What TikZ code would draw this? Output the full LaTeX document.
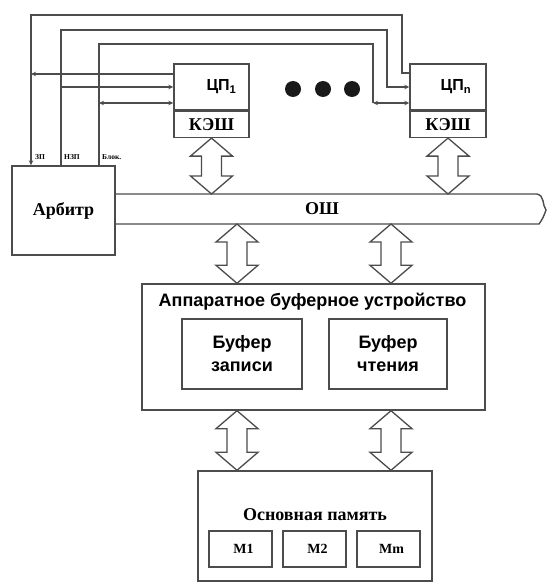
\documentclass[tikz,border=0pt]{standalone}
\usepackage{fontspec}
\setmainfont{Liberation Serif}
\setsansfont{Liberation Sans}
\usetikzlibrary{arrows.meta,calc}

% hollow two-way bus arrow from #1 (top) to #2 (bottom)
\newcommand{\dblarrow}[2]{%
  \draw[busarrow] let \p1=#1, \p2=#2 in
    (\x1,\y1) -- ++(-21pt,-18pt) -- ++(11pt,0pt) -- (\x1-10pt,\y2+18pt)
    -- ++(-11pt,0pt) -- (\x2,\y2) -- ++(21pt,18pt) -- ++(-11pt,0pt)
    -- (\x1+10pt,\y1-18pt) -- ++(11pt,0pt) -- cycle;}

\begin{document}
\begin{tikzpicture}[x=1pt,y=-1pt,
  box/.style={draw=black!70,line width=1.4pt,rectangle,inner sep=0pt},
  sig/.style={draw=black!70,line width=1.3pt},
  busarrow/.style={draw=black!70,line width=1.3pt,fill=white},
  tip/.style={-{Stealth[length=5pt,width=4.5pt]}},
  tipboth/.style={{Stealth[length=5pt,width=4.5pt]}-{Stealth[length=5pt,width=4.5pt]}},
  serifb/.style={font=\fontsize{18}{20}\selectfont\bfseries},
  serifm/.style={font=\fontsize{14}{16}\selectfont\bfseries},
  sansb/.style={font=\fontsize{18}{23}\selectfont\sffamily\bfseries},
  cpulbl/.style={font=\fontsize{16}{18}\selectfont\sffamily\bfseries},
  lbl/.style={font=\fontsize{7.5}{8}\selectfont\bfseries,inner sep=0pt}]
\useasboundingbox (0,0) rectangle (546,583);

% processors
\node[box,minimum width=75pt,minimum height=46pt] (cpu1) at (211.5,87) {};
\node[cpulbl] (cpu1lbl) at ([xshift=10pt]cpu1.center) {ЦП\textsubscript{1}};
\node[box,serifb,minimum width=75pt,minimum height=26pt,anchor=north] (kesh1) at (cpu1.south) {КЭШ};
\node[box,minimum width=76pt,minimum height=46pt] (cpun) at (448,87) {};
\node[cpulbl] (cpunlbl) at ([xshift=8pt]cpun.center) {ЦП\textsubscript{n}};
\node[box,serifb,minimum width=76pt,minimum height=26pt,anchor=north] (keshn) at (cpun.south) {КЭШ};
\foreach \x in {293,323,352}
  \fill[black!90] (\x,89) circle (8pt);

% arbiter and bus
\node[box,serifb,minimum width=103pt,minimum height=89pt] (arb) at (63.5,210.5) {Арбитр};
\coordinate (bustop) at (0,194);
\coordinate (busbot) at (0,224);
\draw[sig,line width=1.4pt] (arb.east |- bustop) -- (537,194)
  .. controls (545,196) and (542,205) .. (546,210)
  .. controls (544,216) and (542,220) .. (539,224) -- (arb.east |- busbot);
\node[serifb] (osh) at (322,209) {ОШ};

% control lines
\coordinate (zp) at ([xshift=-32.5pt]arb.north);
\coordinate (nzp) at ([xshift=-2.5pt]arb.north);
\coordinate (blk) at ([xshift=35.5pt]arb.north);
\coordinate (c1a) at ([yshift=13pt]cpu1.west);
\coordinate (c1c) at ([yshift=-16pt]cpu1.west);
\coordinate (cna) at ([yshift=14pt]cpun.west);
\coordinate (cnc) at ([yshift=-16pt]cpun.west);
\node[lbl,anchor=west] (lzp) at ([xshift=4pt,yshift=8pt]zp) {ЗП};
\node[lbl,anchor=west] (lnzp) at ([xshift=3pt,yshift=8pt]nzp) {НЗП};
\node[lbl,anchor=west] (lblk) at ([xshift=3pt,yshift=8pt]blk) {Блок.};

\draw[sig,tip] (cna) -| (402,15) -| (zp);
\draw[sig,tip] (c1a) -- (zp |- c1a);
\draw[sig,tip] (nzp) |- (387,30) |- (cpun.west);
\draw[sig,tip] (nzp |- cpu1.west) -- (cpu1.west);
\draw[sig] (blk) |- (373,44) -- (373,103);
\draw[sig,tipboth] (blk |- c1c) -- (c1c);
\draw[sig,tipboth] (373,103) -- (cnc);

% buffer unit
\node[box,minimum width=343pt,minimum height=126pt] (buf) at (313.5,347) {};
\node[sansb] (buftitle) at (312.5,302) {Аппаратное буферное устройство};
\node[box,sansb,align=center,minimum width=120pt,minimum height=70pt] (wbuf) at (242,354) {Буфер\\записи};
\node[box,sansb,align=center,minimum width=118pt,minimum height=70pt] (rbuf) at (388,354) {Буфер\\чтения};

% main memory
\node[box,minimum width=234pt,minimum height=110pt] (mem) at (315,526) {};
\node[serifb] (memtitle) at (315,515) {Основная память};
\node[box,serifm,minimum width=63pt,minimum height=36pt] (m1) at (240.5,549) {\hspace*{6pt}М1};
\node[box,serifm,minimum width=63pt,minimum height=36pt] (m2) at (314.5,549) {\hspace*{6pt}М2};
\node[box,serifm,minimum width=63pt,minimum height=36pt] (mm) at (388.5,549) {\hspace*{6pt}Мm};

% bus arrows
\coordinate (p1) at (237,224);
\coordinate (p2) at (391,224);
\dblarrow{(kesh1.south)}{(kesh1.south |- bustop)}
\dblarrow{(keshn.south)}{(keshn.south |- bustop)}
\dblarrow{(p1)}{(p1 |- buf.north)}
\dblarrow{(p2)}{(p2 |- buf.north)}
\dblarrow{(p1 |- buf.south)}{(p1 |- mem.north)}
\dblarrow{(p2 |- buf.south)}{(p2 |- mem.north)}
\end{tikzpicture}
\end{document}
